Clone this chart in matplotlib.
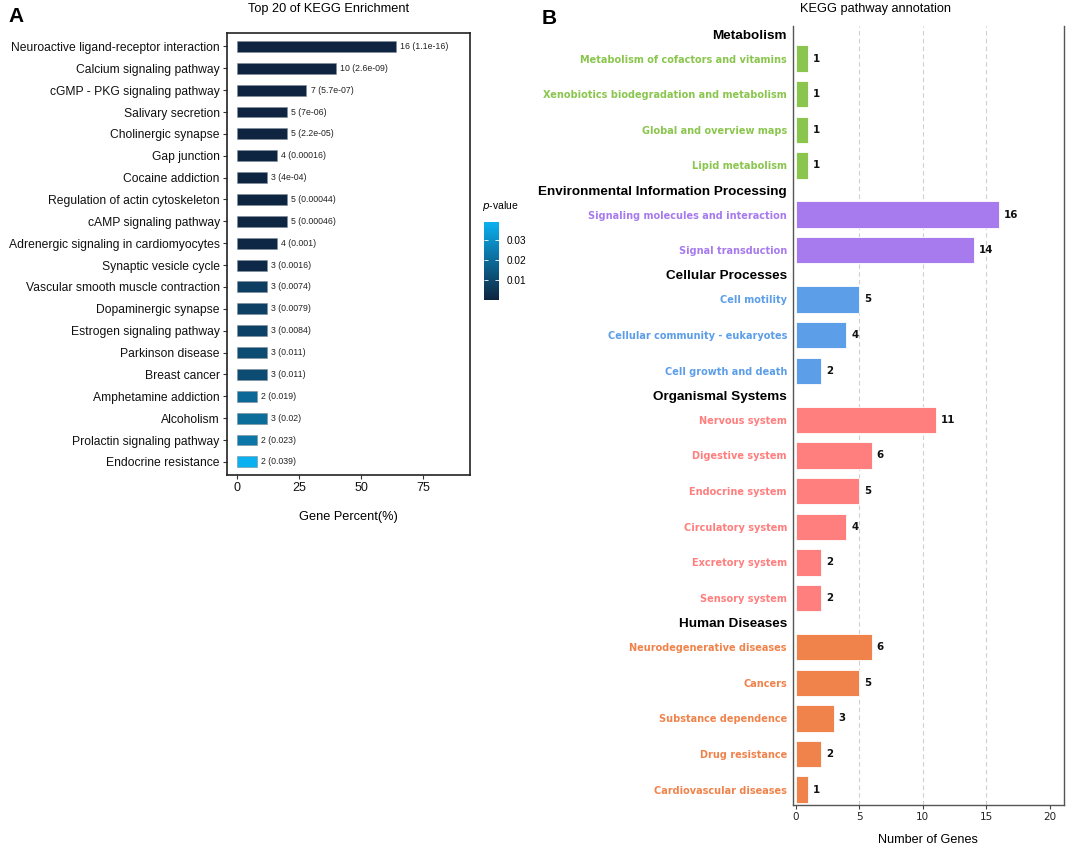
import matplotlib
matplotlib.use("Agg")
import matplotlib.pyplot as plt
import numpy as np
from matplotlib.colors import LinearSegmentedColormap, Normalize
import matplotlib.colorbar as mcolorbar

# ---------------- Panel A data ----------------
pathways_a = [
    "Neuroactive ligand-receptor interaction",
    "Calcium signaling pathway",
    "cGMP - PKG signaling pathway",
    "Salivary secretion",
    "Cholinergic synapse",
    "Gap junction",
    "Cocaine addiction",
    "Regulation of actin cytoskeleton",
    "cAMP signaling pathway",
    "Adrenergic signaling in cardiomyocytes",
    "Synaptic vesicle cycle",
    "Vascular smooth muscle contraction",
    "Dopaminergic synapse",
    "Estrogen signaling pathway",
    "Parkinson disease",
    "Breast cancer",
    "Amphetamine addiction",
    "Alcoholism",
    "Prolactin signaling pathway",
    "Endocrine resistance",
]
counts_a = [16, 10, 7, 5, 5, 4, 3, 5, 5, 4, 3, 3, 3, 3, 3, 3, 2, 3, 2, 2]
gene_percent = [64, 40, 28, 20, 20, 16, 12, 20, 20, 16, 12, 12, 12, 12, 12, 12, 8, 12, 8, 8]
pvalue_labels = ["1.1e-16", "2.6e-09", "5.7e-07", "7e-06", "2.2e-05", "0.00016",
                 "4e-04", "0.00044", "0.00046", "0.001", "0.0016", "0.0074",
                 "0.0079", "0.0084", "0.011", "0.011", "0.019", "0.02", "0.023", "0.039"]
pvalues = [1.1e-16, 2.6e-09, 5.7e-07, 7e-06, 2.2e-05, 0.00016, 4e-04, 0.00044,
           0.00046, 0.001, 0.0016, 0.0074, 0.0079, 0.0084, 0.011, 0.011, 0.019,
           0.02, 0.023, 0.039]
xticks_a = [0, 25, 50, 75]
cbar_ticks = [0.01, 0.02, 0.03]

# ---------------- Panel B data ----------------
groups_b = ["Metabolism", "Environmental Information Processing", "Cellular Processes",
            "Organismal Systems", "Human Diseases"]
metabolism_cats = ["Metabolism of cofactors and vitamins",
                   "Xenobiotics biodegradation and metabolism",
                   "Global and overview maps", "Lipid metabolism"]
metabolism_vals = [1, 1, 1, 1]
env_cats = ["Signaling molecules and interaction", "Signal transduction"]
env_vals = [16, 14]
cell_cats = ["Cell motility", "Cellular community - eukaryotes", "Cell growth and death"]
cell_vals = [5, 4, 2]
org_cats = ["Nervous system", "Digestive system", "Endocrine system",
            "Circulatory system", "Excretory system", "Sensory system"]
org_vals = [11, 6, 5, 4, 2, 2]
hd_cats = ["Neurodegenerative diseases", "Cancers", "Substance dependence",
           "Drug resistance", "Cardiovascular diseases"]
hd_vals = [6, 5, 3, 2, 1]
group_colors = ["#8AC64E", "#A77BEE", "#5C9EE8", "#FF7E7E", "#F0834B"]
xticks_b = [0, 5, 10, 15, 20]

ARIAL = ["Liberation Sans", "DejaVu Sans"]

W, H = 1072, 851
fig = plt.figure(figsize=(W / 100, H / 100), dpi=100)


def rect(l, t, r, b):
    return [l / W, 1 - b / H, (r - l) / W, (b - t) / H]


# ================= Panel A =================
axA = fig.add_axes(rect(226.7, 33.3, 470, 475))
cmap = LinearSegmentedColormap.from_list("pv", ["#0E2440", "#0AB0F0"])
norm = Normalize(vmin=min(pvalues), vmax=max(pvalues))
ya = np.arange(len(pathways_a))
axA.barh(ya, gene_percent, height=0.5, color=[cmap(norm(p)) for p in pvalues],
         edgecolor="#7f8c99", linewidth=0.4)
for y, v, c, pl in zip(ya, gene_percent, counts_a, pvalue_labels):
    axA.annotate(f"{c} ({pl})", (v, y), xytext=(3, 0), textcoords="offset points",
                 va="center", ha="left", fontsize=6.3, family=ARIAL, color="#222222")
axA.set_ylim(len(pathways_a) - 0.4, -0.6)
axA.set_xlim(-4.2, 94)
axA.set_yticks(ya)
axA.set_yticklabels(pathways_a, fontsize=8.7, family=ARIAL, color="#111111")
axA.set_xticks(xticks_a)
axA.set_xticklabels([str(t) for t in xticks_a], fontsize=9, family=ARIAL, color="#111111")
axA.tick_params(axis="both", length=3, width=0.8, color="#333333", pad=2)
for s in axA.spines.values():
    s.set_linewidth(1.2)
    s.set_color("#222222")
axA.set_xlabel("Gene Percent(%)", fontsize=9.2, family=ARIAL, labelpad=12)
fig.text(328.5 / W, 1 - 9 / H, "Top 20 of KEGG Enrichment", ha="center", va="center",
         fontsize=9.2, family=ARIAL)
fig.text(8 / W, 1 - 17 / H, "A", ha="left", va="center", fontsize=15,
         fontweight="bold", family=ARIAL)

# colorbar
cax = fig.add_axes(rect(484.3, 222.3, 499.3, 300))
cb = mcolorbar.ColorbarBase(cax, cmap=cmap, norm=norm, orientation="vertical")
cb.outline.set_visible(False)
cb.set_ticks(cbar_ticks)
cb.set_ticklabels([f"{t:.2f}" for t in cbar_ticks])
cax.tick_params(axis="y", direction="in", color="white", length=3, width=0.6,
                left=True, right=True, labelsize=7.2, pad=5)
for lab in cax.get_yticklabels():
    lab.set_family(ARIAL)
fig.text(481.5 / W, 1 - 206 / H, r"$\it{p}$" + "-value", ha="left", va="center",
         fontsize=7.5, family=ARIAL)

# ================= Panel B =================
axB = fig.add_axes(rect(792.5, 26, 1064, 805))
cats_by_group = [metabolism_cats, env_cats, cell_cats, org_cats, hd_cats]
vals_by_group = [metabolism_vals, env_vals, cell_vals, org_vals, hd_vals]
gap = 0.69
cur = 0.0
tick_pos, tick_lab, tick_style = [], [], []
bar_y, bar_v, bar_c = [], [], []
for g, cats, vals, col in zip(groups_b, cats_by_group, vals_by_group, group_colors):
    tick_pos.append(cur)
    tick_lab.append(g)
    tick_style.append(("header", "black"))
    cur += gap
    for c, v in zip(cats, vals):
        tick_pos.append(cur)
        tick_lab.append(c)
        tick_style.append(("cat", col))
        bar_y.append(cur)
        bar_v.append(v)
        bar_c.append(col)
        cur += 1
    cur = cur - 1 + gap

for xg in [5, 10, 15]:
    axB.axvline(xg, color="#cfcfcf", linestyle=(0, (4, 3)), linewidth=0.8, zorder=0)
axB.barh(bar_y, bar_v, height=0.74, color=bar_c, edgecolor="white", linewidth=0.6,
         zorder=2)
for y, v in zip(bar_y, bar_v):
    axB.annotate(str(v), (v, y), xytext=(3.5, 0), textcoords="offset points",
                 va="center", ha="left", fontsize=7.4, fontweight="bold",
                 family="DejaVu Sans", color="#111111")
axB.set_xlim(-0.24, 21.1)
axB.set_ylim(bar_y[-1] + 0.43, -0.225)
axB.set_yticks(tick_pos)
axB.set_yticklabels(tick_lab)
for lab, (kind, col) in zip(axB.get_yticklabels(), tick_style):
    if kind == "header":
        lab.set_family(ARIAL)
        lab.set_fontsize(9.7)
        lab.set_fontweight("bold")
        lab.set_color("black")
    else:
        lab.set_family("DejaVu Sans")
        lab.set_fontsize(7.05)
        lab.set_fontweight("bold")
        lab.set_color(col)
axB.tick_params(axis="y", length=0, pad=4)
axB.set_xticks(xticks_b)
axB.set_xticklabels([str(t) for t in xticks_b], fontsize=7.5, family="DejaVu Sans",
                    color="#222222")
axB.tick_params(axis="x", length=3, width=0.8, color="#444444", pad=2)
axB.spines["top"].set_visible(False)
for s in ["left", "bottom", "right"]:
    axB.spines[s].set_linewidth(1.0)
    axB.spines[s].set_color("#555555")
axB.set_xlabel("Number of Genes", fontsize=9.1, family=ARIAL, labelpad=9)
fig.text(876 / W, 1 - 9 / H, "KEGG pathway annotation", ha="center", va="center",
         fontsize=9.2, family=ARIAL)
fig.text(542 / W, 1 - 18 / H, "B", ha="left", va="center", fontsize=15,
         fontweight="bold", family=ARIAL)

fig.savefig("out.png", dpi=100)
